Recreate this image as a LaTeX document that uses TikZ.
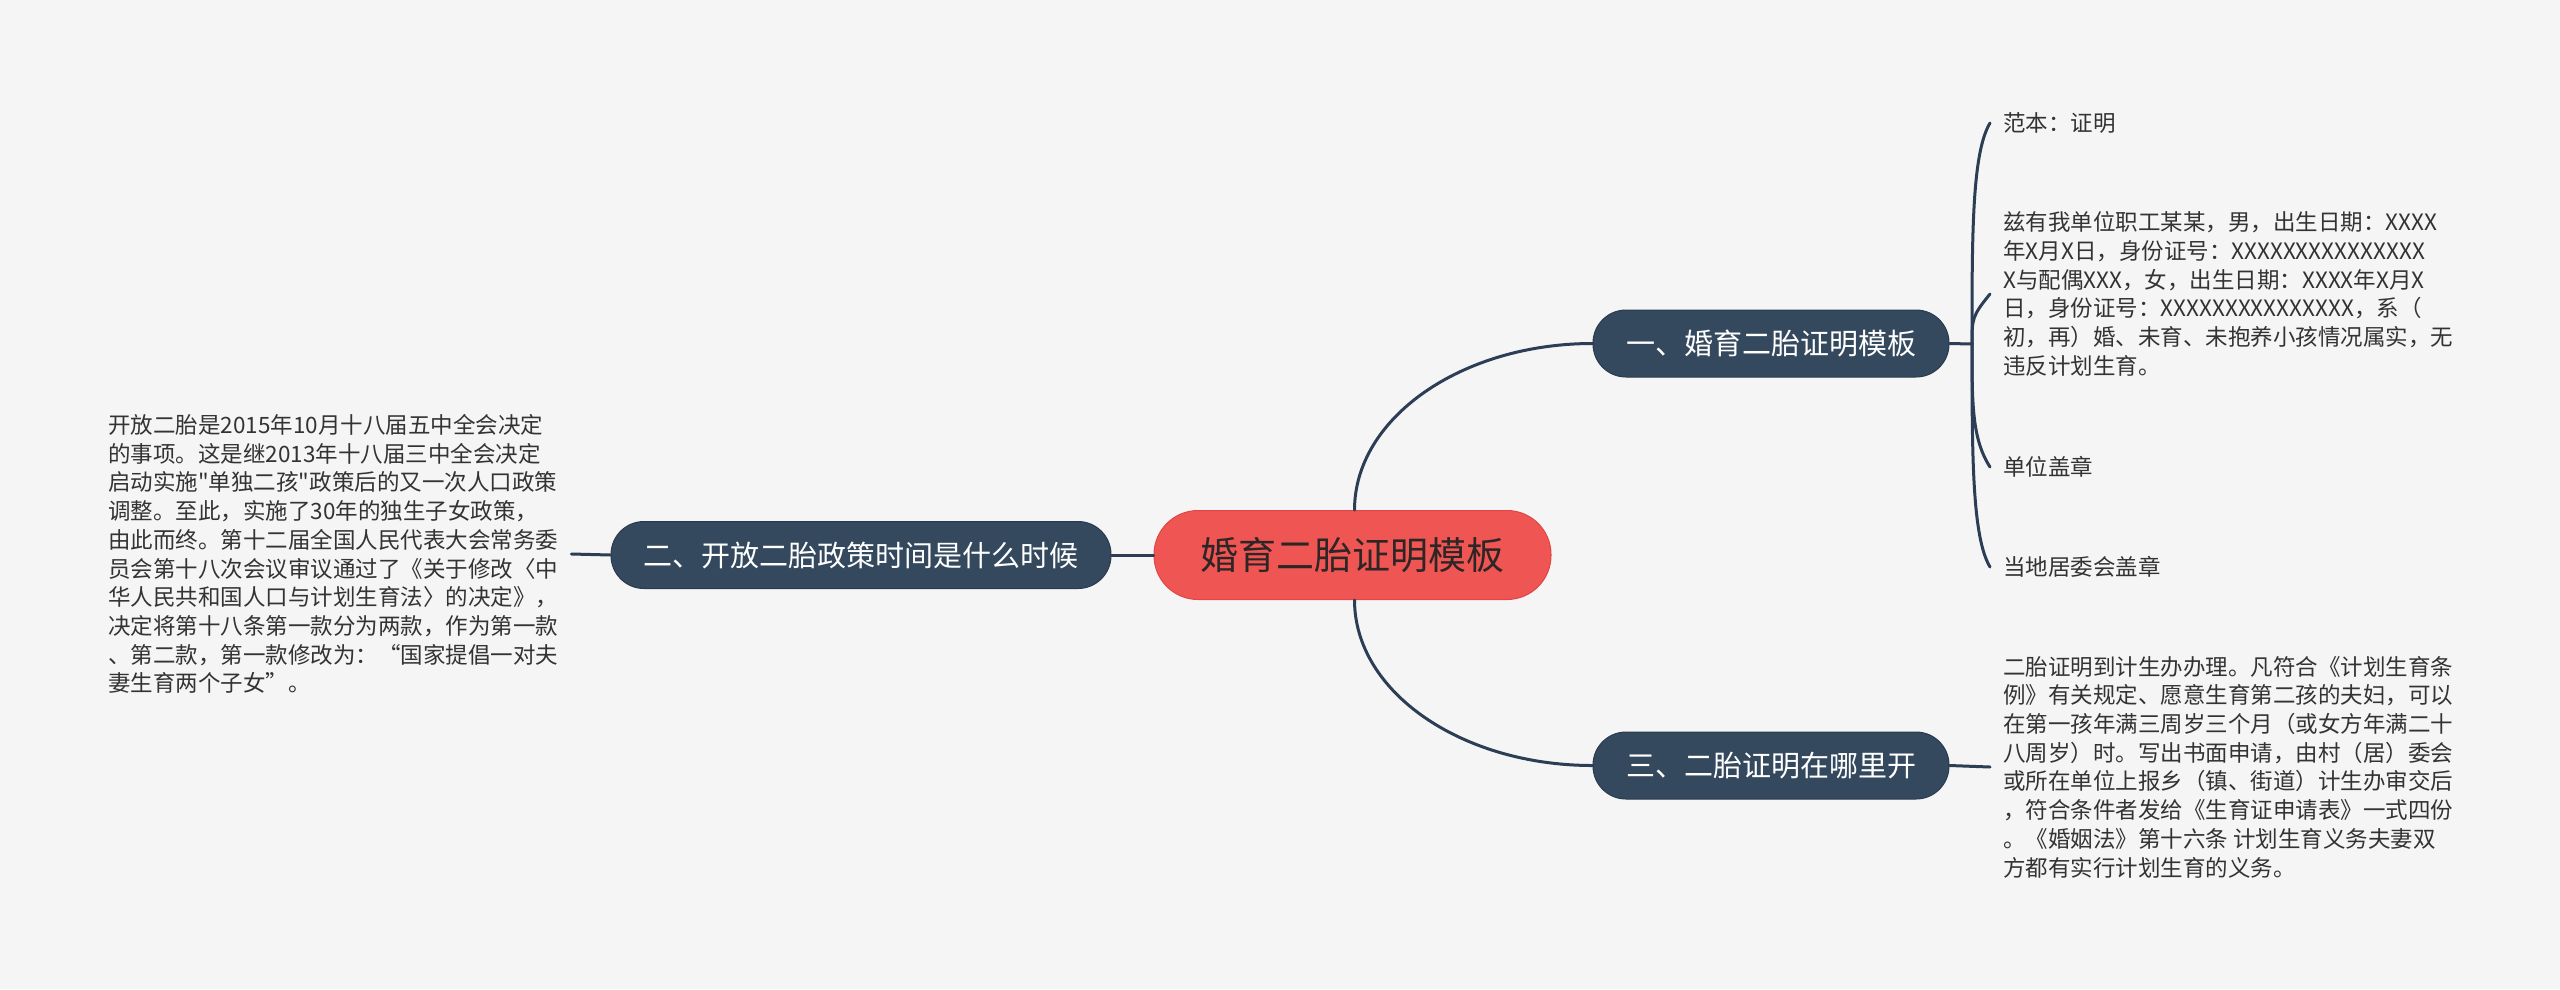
\documentclass[tikz,border=0pt]{standalone}
\usepackage{fontspec}
\setmainfont{Noto Sans CJK SC}
\newfontfamily\cjkplain{Noto Sans CJK SC}
\definecolor{bg}{HTML}{F5F5F5}
\definecolor{navy}{HTML}{34495E}
\definecolor{navyedge}{HTML}{2A3B4E}
\definecolor{linec}{HTML}{2C3E55}
\definecolor{redc}{HTML}{EF5552}
\definecolor{rededge}{HTML}{E04646}
\definecolor{centertext}{HTML}{2E2626}
\definecolor{leaftext}{HTML}{333333}
\begin{document}
\begin{tikzpicture}[x=1pt,y=1pt,
  centerbox/.style={rectangle, rounded corners=44pt, fill=redc, draw=rededge, line width=1pt,
    minimum width=397pt, minimum height=89pt, inner sep=0pt, text=centertext,
    font=\cjkplain\fontsize{38}{40}\selectfont},
  topicbox/.style={rectangle, rounded corners=33pt, fill=navy, draw=navyedge, line width=1pt,
    minimum height=67pt, inner sep=0pt, text=white,
    font=\cjkplain\fontsize{29}{31}\selectfont},
  leaf/.style={align=left, inner xsep=13pt, inner ysep=0pt, text=leaftext,
    font=\cjkplain\fontsize{22.5}{28.7}\selectfont},
  conn/.style={draw=linec, line width=3pt, line cap=round}]
\path[use as bounding box, fill=bg] (0,0) rectangle (2560,-989);

% main nodes
\node[centerbox] (c) at (1352.5,-555) {婚育二胎证明模板};
\node[topicbox, minimum width=356pt] (n1) at (1771,-343.5) {一、婚育二胎证明模板};
\node[topicbox, minimum width=500pt] (n2) at (861,-555) {二、开放二胎政策时间是什么时候};
\node[topicbox, minimum width=356pt] (n3) at (1771,-765.5) {三、二胎证明在哪里开};

% leaves of topic 1
\node[leaf, anchor=west] (l1a) at (1990,-123) {范本：证明};
\node[leaf, anchor=west] (l1b) at (1990,-294) {兹有我单位职工某某，男，出生日期：XXXX\\
年X月X日，身份证号：XXXXXXXXXXXXXXX\\
X与配偶XXX，女，出生日期：XXXX年X月X\\
日，身份证号：XXXXXXXXXXXXXXX，系（\\
初，再）婚、未育、未抱养小孩情况属实，无\\
违反计划生育。};
\node[leaf, anchor=west] (l1c) at (1990,-467) {单位盖章};
\node[leaf, anchor=west] (l1d) at (1990,-567) {当地居委会盖章};

% leaf of topic 2
\node[leaf, anchor=west] (l2) at (95,-554) {开放二胎是2015年10月十八届五中全会决定\\
的事项。这是继2013年十八届三中全会决定\\
启动实施"单独二孩"政策后的又一次人口政策\\
调整。至此，实施了30年的独生子女政策，\\
由此而终。第十二届全国人民代表大会常务委\\
员会第十八次会议审议通过了《关于修改〈中\\
华人民共和国人口与计划生育法〉的决定》，\\
决定将第十八条第一款分为两款，作为第一款\\
、第二款，第一款修改为：“国家提倡一对夫\\
妻生育两个子女”。};

% leaf of topic 3
\node[leaf, anchor=west] (l3) at (1990,-767) {二胎证明到计生办办理。凡符合《计划生育条\\
例》有关规定、愿意生育第二孩的夫妇，可以\\
在第一孩年满三周岁三个月（或女方年满二十\\
八周岁）时。写出书面申请，由村（居）委会\\
或所在单位上报乡（镇、街道）计生办审交后\\
，符合条件者发给《生育证申请表》一式四份\\
。《婚姻法》第十六条 计划生育义务夫妻双\\
方都有实行计划生育的义务。};

% connectors
\draw[conn] ([xshift=2pt]c.north) .. controls +(0,92) and +(-131,0) .. (n1.west);
\draw[conn] ([xshift=2pt]c.south) .. controls +(0,-92) and +(-131,0) .. (n3.west);
\draw[conn] (c.west) -- (n2.east);
\draw[conn] (n2.west) -- (l2.east);
\draw[conn] (n3.east) -- (l3.west);

\coordinate (j1) at (1972,-344);
\draw[conn] (n1.east) -- (j1);
\draw[conn] (j1) .. controls +(0,110) and +(-18,-30) .. (l1a.west);
\draw[conn] (j1) .. controls +(0,25) and +(-18,-22) .. (l1b.west);
\draw[conn] (j1) .. controls +(0,-60) and +(-18,28) .. (l1c.west);
\draw[conn] (j1) .. controls +(0,-110) and +(-18,30) .. (l1d.west);
\end{tikzpicture}
\end{document}
